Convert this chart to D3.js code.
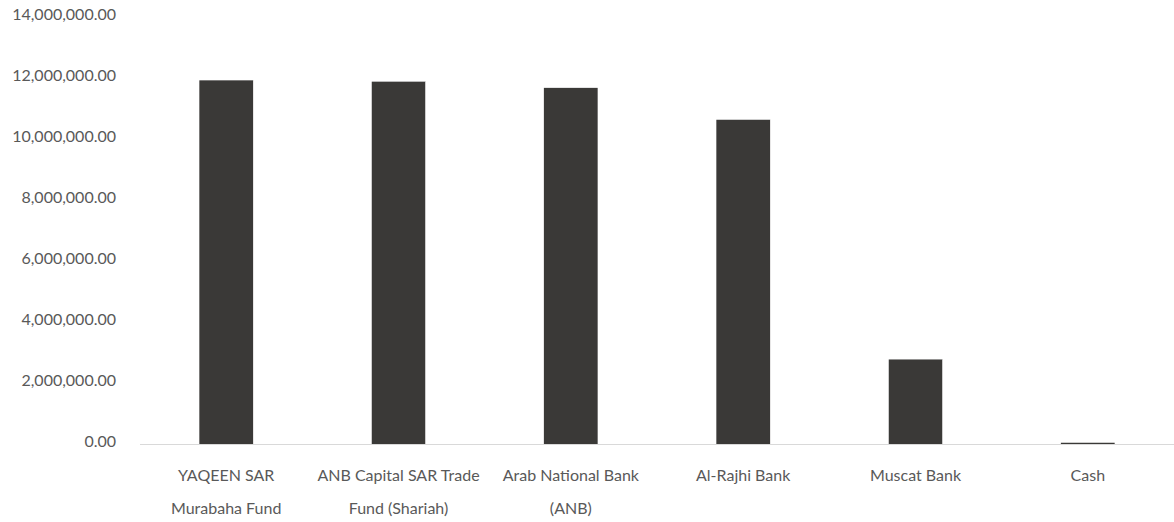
<!DOCTYPE html>
<html lang="en">
<head>
<meta charset="UTF-8">
<title>Holdings</title>
<script src="https://d3js.org/d3.v7.min.js"></script>
<style>
  body { margin: 0; background: #fff; }
  text { font-family: Lato, "Open Sans", sans-serif; fill: #595959; }
</style>
</head>
<body>
<div id="chart"></div>
<script>
// Data
const categories = [
  ["YAQEEN SAR", "Murabaha Fund"],
  ["ANB Capital SAR Trade", "Fund (Shariah)"],
  ["Arab National Bank", "(ANB)"],
  ["Al-Rajhi Bank"],
  ["Muscat Bank"],
  ["Cash"]
];
const values = [11950000, 11910000, 11700000, 10660000, 2800000, 70000];
const yTicks = [0, 2000000, 4000000, 6000000, 8000000, 10000000, 12000000, 14000000];

const width = 1174, height = 522;
const margin = { top: 17.5, right: 0, bottom: 77.5, left: 140 };

const svg = d3.select("#chart").append("svg")
  .attr("width", width)
  .attr("height", height);

const x = d3.scaleBand()
  .domain(d3.range(categories.length))
  .range([margin.left, width - margin.right])
  .paddingInner(0.685)
  .paddingOuter(0.3425);

const y = d3.scaleLinear()
  .domain([0, 14000000])
  .range([height - margin.bottom, margin.top]);

const fmt = d3.format(",.2f");

// y labels (no axis line)
svg.append("g")
  .selectAll("text")
  .data(yTicks)
  .join("text")
  .attr("x", 116)
  .attr("y", d => y(d) - 3)
  .attr("dy", "0.35em")
  .attr("text-anchor", "end")
  .style("font-size", "16px")
  .text(d => fmt(d));

// bars
svg.append("g")
  .selectAll("rect")
  .data(values)
  .join("rect")
  .attr("x", (d, i) => x(i))
  .attr("y", d => y(d))
  .attr("width", x.bandwidth())
  .attr("height", d => y(0) - y(d))
  .attr("fill", "#3a3937")
  .attr("stroke", "#fff")
  .attr("stroke-width", 0.6);

// baseline
svg.append("line")
  .attr("x1", margin.left)
  .attr("x2", width)
  .attr("y1", y(0))
  .attr("y2", y(0))
  .attr("stroke", "#d9d9d9")
  .attr("stroke-width", 1.2);

// category labels
const lab = svg.append("g")
  .selectAll("text")
  .data(categories)
  .join("text")
  .attr("x", (d, i) => x(i) + x.bandwidth() / 2)
  .attr("y", 475)
  .attr("text-anchor", "middle")
  .style("font-size", "16px");

lab.selectAll("tspan")
  .data(d => d)
  .join("tspan")
  .attr("x", function () { return d3.select(this.parentNode).attr("x"); })
  .attr("dy", (d, i) => i === 0 ? "0.35em" : "33px")
  .text(d => d);
</script>
</body>
</html>
